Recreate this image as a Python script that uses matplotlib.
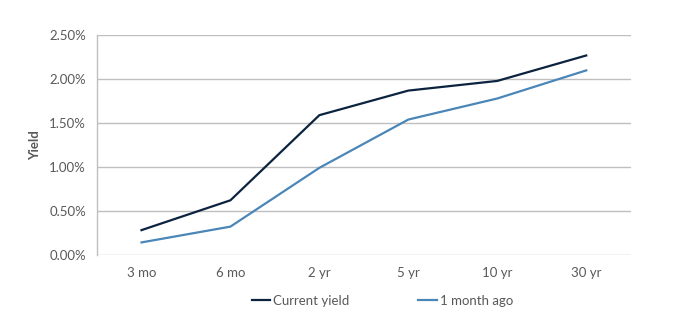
import matplotlib
matplotlib.use('Agg')
import matplotlib.pyplot as plt
from matplotlib.ticker import FuncFormatter

# Data
maturities = ['3 mo', '6 mo', '2 yr', '5 yr', '10 yr', '30 yr']
current_yield = [0.28, 0.62, 1.59, 1.87, 1.98, 2.27]
month_ago = [0.14, 0.32, 0.99, 1.54, 1.78, 2.10]
series_names = ['Current yield', '1 month ago']
y_ticks = [0.0, 0.5, 1.0, 1.5, 2.0, 2.5]

plt.rcParams['font.family'] = ['Lato', 'DejaVu Sans']
text_color = '#595959'
grid_color = '#bfbfbf'

fig = plt.figure(figsize=(7, 3.25), dpi=100)
ax = fig.add_axes([0.1386, 0.2163, 0.7624, 0.6751])

x = range(len(maturities))
ax.plot(x, current_yield, color='#0c2340', lw=1.6, label=series_names[0],
        solid_joinstyle='miter')
ax.plot(x, month_ago, color='#4a86b8', lw=1.6, label=series_names[1],
        solid_joinstyle='miter')

ax.set_xlim(-0.5, len(maturities) - 0.5)
ax.set_ylim(0, 2.5)
ax.set_yticks(y_ticks)
ax.yaxis.set_major_formatter(FuncFormatter(lambda v, p: '%.2f%%' % v))
ax.set_xticks(list(x))
ax.set_xticklabels(maturities)

# Gridlines and frame
ax.grid(axis='y', color=grid_color, lw=1.0)
ax.set_axisbelow(True)
for s in ['top', 'right', 'bottom']:
    ax.spines[s].set_visible(False)
ax.spines['left'].set_color(grid_color)
ax.spines['left'].set_linewidth(1.0)
ax.tick_params(axis='both', length=0, labelsize=9.5, labelcolor=text_color)
ax.tick_params(axis='y', pad=8)
ax.tick_params(axis='x', pad=9)

ax.set_ylabel('Yield', fontsize=9.5, fontweight='bold', color=text_color, labelpad=6)

ax.legend(loc='upper center', bbox_to_anchor=(0.535, -0.13), ncol=2, frameon=False,
          fontsize=9.5, labelcolor=text_color, handlelength=1.4, handletextpad=0.25,
          columnspacing=5.2)

fig.savefig('out.png', dpi=100)
